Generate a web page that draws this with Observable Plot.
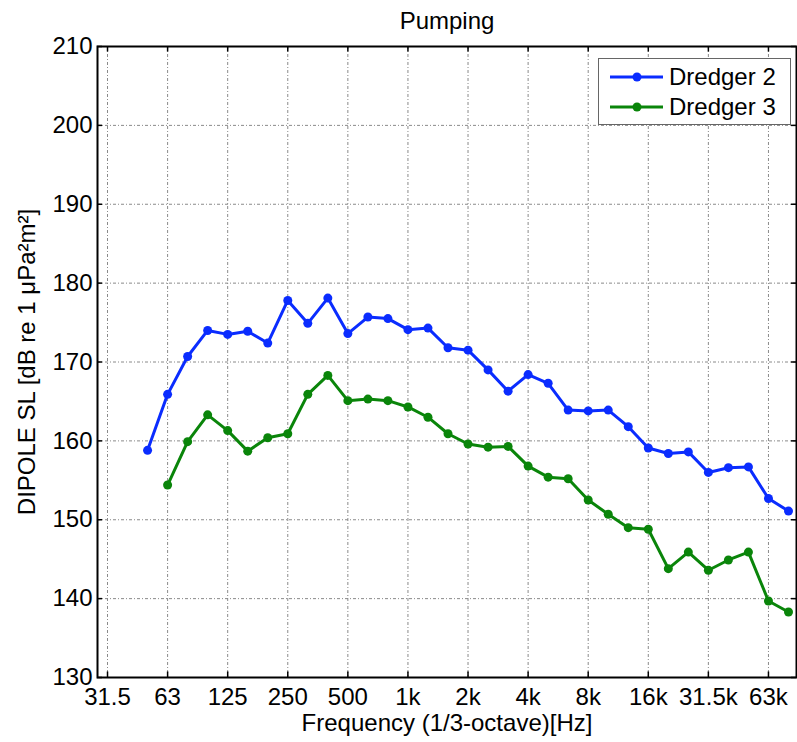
<!DOCTYPE html>
<html>
<head>
<meta charset="utf-8">
<script src="https://cdn.jsdelivr.net/npm/d3@7"></script>
<script src="https://cdn.jsdelivr.net/npm/@observablehq/plot@0.6"></script>
<style>
  body { margin: 0; background: #fff; }
  #wrap { position: relative; width: 797px; height: 742px; font-family: "Liberation Sans", Arial, sans-serif; }
  #legend { position: absolute; left: 598px; top: 58px; width: 191px; height: 65px; border: 1px solid #666; background: #fff; box-sizing: content-box; }
  .lg-row { position: absolute; left: 0; height: 30px; display: flex; align-items: center; }
  .lg-row span { font-size: 24px; color: #000; margin-left: 4px; white-space: nowrap; }
</style>
</head>
<body>
<div id="wrap"></div>
<script>
// 1/3-octave band labels (index 0 = 31.5 Hz)
const bandLabels = ["31.5","40","50","63","80","100","125","160","200","250","315","400","500","630","800",
  "1k","1.25k","1.6k","2k","2.5k","3.15k","4k","5k","6.3k","8k","10k","12.5k","16k","20k","25k","31.5k","40k","50k","63k","80k"];
const xTickLabels = ["31.5","63","125","250","500","1k","2k","4k","8k","16k","31.5k","63k"];
const yTicks = [130,140,150,160,170,180,190,200,210];
const yGridValues = [140,150,160,170,180,190,200];

const seriesNames = ["Dredger 2","Dredger 3"];
const seriesColors = ["#0a2cff","#0a850a"];

// Dredger 2: bands 50 Hz .. 80 kHz
const dredger2Bands = ["50","63","80","100","125","160","200","250","315","400","500","630","800",
  "1k","1.25k","1.6k","2k","2.5k","3.15k","4k","5k","6.3k","8k","10k","12.5k","16k","20k","25k","31.5k","40k","50k","63k","80k"];
const dredger2 = [158.8,165.9,170.7,174.0,173.5,173.9,172.4,177.8,174.9,178.1,173.6,175.7,175.5,
  174.1,174.3,171.8,171.5,169.0,166.3,168.4,167.3,163.9,163.8,163.9,161.8,159.1,158.4,158.6,156.0,156.6,156.7,152.7,151.1];

// Dredger 3: bands 63 Hz .. 80 kHz
const dredger3Bands = ["63","80","100","125","160","200","250","315","400","500","630","800",
  "1k","1.25k","1.6k","2k","2.5k","3.15k","4k","5k","6.3k","8k","10k","12.5k","16k","20k","25k","31.5k","40k","50k","63k","80k"];
const dredger3 = [154.4,159.9,163.3,161.3,158.7,160.4,160.9,165.9,168.3,165.1,165.3,165.1,
  164.3,163.0,160.9,159.6,159.2,159.3,156.8,155.4,155.2,152.5,150.7,149.0,148.8,143.8,145.9,143.6,144.9,145.9,139.7,138.3];

const titleText = "Pumping";
const xLabelText = "Frequency (1/3-octave)[Hz]";
const yLabelText = "DIPOLE SL [dB re 1 \u03bcPa\u00b2m\u00b2]";

const rows = [
  ...dredger2Bands.map((b, i) => ({series: seriesNames[0], idx: bandLabels.indexOf(b), value: dredger2[i]})),
  ...dredger3Bands.map((b, i) => ({series: seriesNames[1], idx: bandLabels.indexOf(b), value: dredger3[i]}))
];
const xTickIdx = xTickLabels.map(l => bandLabels.indexOf(l));
const xMin = -0.5, xMax = 34.4, yMin = 130, yMax = 210;

const gridStyle = {stroke: "#8a8a8a", strokeWidth: 1, strokeDasharray: "3,2,1,2"};
const tickStyle = {stroke: "#000", strokeWidth: 1.5};

const plot = Plot.plot({
  width: 797,
  height: 742,
  marginLeft: 97,
  marginRight: 1,
  marginTop: 46,
  marginBottom: 65,
  style: {fontFamily: "Liberation Sans, Arial, sans-serif", fontSize: "24px", background: "white", color: "black", overflow: "visible"},
  x: {domain: [xMin, xMax], ticks: xTickIdx, tickFormat: i => bandLabels[i], tickSize: 0, tickPadding: 10, label: null},
  y: {domain: [yMin, yMax], ticks: yTicks, tickSize: 0, tickPadding: 5, label: null},
  color: {domain: seriesNames, range: seriesColors},
  marks: [
    Plot.ruleX(xTickIdx, {x: d => d, ...gridStyle}),
    Plot.ruleY(yGridValues, {y: d => d, ...gridStyle}),
    Plot.line(rows, {x: "idx", y: "value", z: "series", stroke: "series", strokeWidth: 3}),
    Plot.dot(rows, {x: "idx", y: "value", fill: "series", r: 4.5}),
    Plot.ruleX(xTickIdx, {x: d => d, y1: yMin, y2: yMin + 0.7, ...tickStyle}),
    Plot.ruleX(xTickIdx, {x: d => d, y1: yMax - 0.7, y2: yMax, ...tickStyle}),
    Plot.ruleY(yTicks, {y: d => d, x1: xMin, x2: xMin + 0.25, ...tickStyle}),
    Plot.ruleY(yTicks, {y: d => d, x1: xMax - 0.25, x2: xMax, ...tickStyle}),
    Plot.frame({stroke: "#000", strokeWidth: 2}),
    Plot.text([titleText], {text: d => d, frameAnchor: "top", lineAnchor: "middle", textAnchor: "middle", dy: -25, fontSize: 24, fill: "#000"}),
    Plot.text([xLabelText], {text: d => d, frameAnchor: "bottom", lineAnchor: "middle", textAnchor: "middle", dy: 46, fontSize: 24, fill: "#000"}),
    Plot.text([yLabelText], {text: d => d, frameAnchor: "left", lineAnchor: "middle", textAnchor: "middle", dx: -70, rotate: -90, fontSize: 24, fill: "#000"})
  ]
});
const wrap = document.getElementById("wrap");
wrap.appendChild(plot);

// Legend (HTML overlay)
const legend = document.createElement("div");
legend.id = "legend";
seriesNames.forEach((name, i) => {
  const row = document.createElement("div");
  row.className = "lg-row";
  row.style.top = (3 + i * 30) + "px";
  row.innerHTML = `<svg width="66" height="30"><line x1="11" x2="64" y1="15" y2="15" stroke="${seriesColors[i]}" stroke-width="3"/><circle cx="38" cy="15" r="4.5" fill="${seriesColors[i]}"/></svg><span>${name}</span>`;
  legend.appendChild(row);
});
wrap.appendChild(legend);
</script>
</body>
</html>
